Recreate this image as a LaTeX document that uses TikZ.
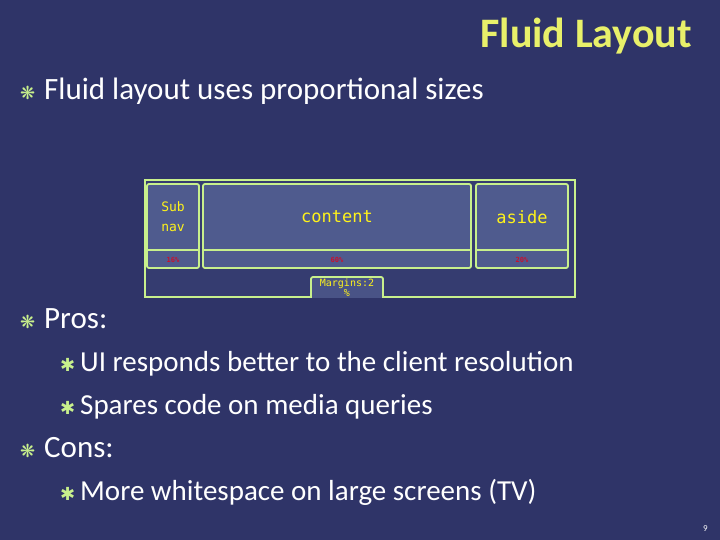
\documentclass[tikz,border=0pt]{standalone}
\usepackage{fontspec}
\setmainfont{Carlito}
\newfontfamily\symfont{DejaVu Sans}
\newfontfamily\monofont{DejaVu Sans Mono}
\usetikzlibrary{positioning}
\definecolor{bgblue}{HTML}{2F3468}
\definecolor{boxblue}{HTML}{4F5B8E}
\definecolor{lime}{HTML}{C8F08C}
\definecolor{titleyel}{HTML}{E8F06A}
\definecolor{labred}{HTML}{C8102E}
\begin{document}
\begin{tikzpicture}[x=1pt,y=-1pt,
    txt/.style={anchor=base west, text=white, inner sep=0pt, font=\fontsize{31}{33}\selectfont},
    subtxt/.style={txt, font=\fontsize{29}{31}\selectfont},
    bul/.style={anchor=base west, text=lime, inner sep=0pt, font=\symfont\fontsize{18}{20}\selectfont},
    cell/.style={draw=lime, line width=1.8pt, fill=boxblue, rounded corners=2pt},
    cellname/.style={text=yellow!90!white, font=\monofont\fontsize{17}{20}\selectfont, align=center},
    pct/.style={text=labred, font=\monofont\bfseries\fontsize{7}{8}\selectfont}
]
\fill[bgblue] (0,0) rectangle (720,540);
\node[anchor=base east, text=titleyel, inner sep=0pt, font=\bfseries\fontsize{42}{44}\selectfont] (title) at (692,48) {Fluid Layout};

% top bullet
\node[bul] (b1) at (20,100) {❋};
\node[txt] (t1) at (44,100) {Fluid layout uses proportional sizes};

% layout sketch
\draw[lime, line width=1.8pt, fill=bgblue!80!boxblue] (145,180) rectangle (575,297);
\foreach \nm/\xa/\xb/\lab/\fs/\pc in {subnav/147/199/{Sub\\nav}/13/16\%, content/203/471/content/17/60\%, aside/476/568/aside/17/20\%}{
    \draw[cell] (\xa,184) rectangle (\xb,268);
    \draw[lime, line width=1.8pt] (\xa,250) -- (\xb,250);
    \node[cellname, font=\monofont\fontsize{\fs}{20}\selectfont] (\nm) at ({(\xa+\xb)/2},217) {\lab};
    \node[pct] (\nm pct) at ({(\xa+\xb)/2},260) {\pc};
}
\draw[cell, fill=boxblue!80!bgblue] (311,277) rectangle (383,300);
\node[font=\monofont\fontsize{10}{10}\selectfont, text=yellow!90!white, align=center] (margins) at (347,288) {Margins:2\\\%};
\fill[bgblue] (300,298) rectangle (400,310);

% pros / cons
\node[bul] (b2) at (20,328) {❋};
\node[txt] (t2) at (44,328) {Pros:};
\node[bul] (b3) at (60,371) {✱};
\node[subtxt] (t3) at (80,371) {UI responds better to the client resolution};
\node[bul] (b4) at (60,414) {✱};
\node[subtxt] (t4) at (80,414) {Spares code on media queries};
\node[bul] (b5) at (20,457) {❋};
\node[txt] (t5) at (44,457) {Cons:};
\node[bul] (b6) at (60,500) {✱};
\node[subtxt] (t6) at (80,500) {More whitespace on large screens (TV)};

\node[anchor=base east, text=white, inner sep=0pt, font=\fontsize{9}{10}\selectfont] (page) at (708,531) {9};
\end{tikzpicture}
\end{document}
